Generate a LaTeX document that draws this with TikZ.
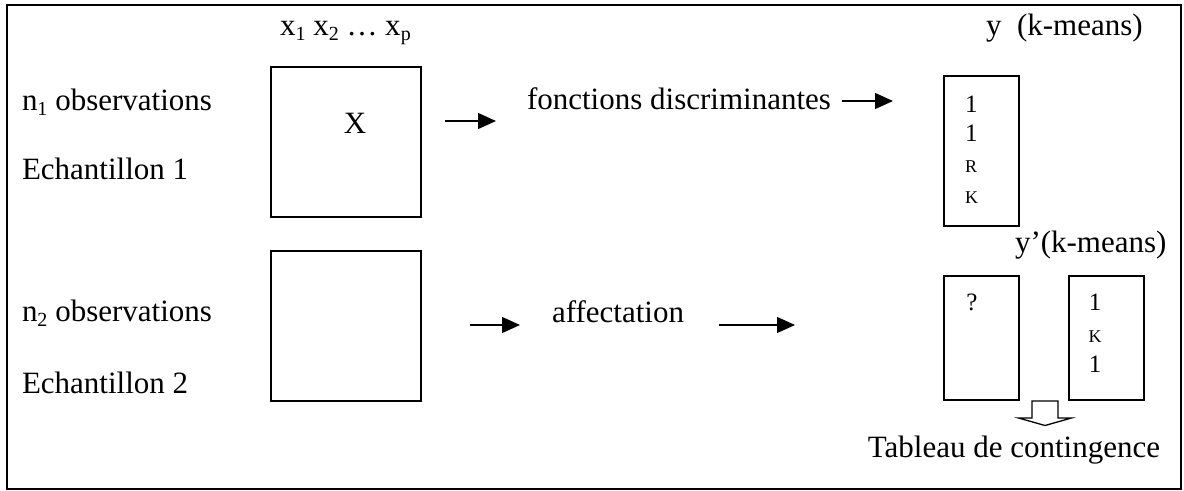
\documentclass[tikz,border=0pt]{standalone}
\usepackage{fontspec}
\setmainfont{Liberation Serif}
\usetikzlibrary{arrows.meta}
\newcommand\mysub[1]{\raisebox{-0.16em}{\fontsize{10}{10}\selectfont #1}}
\begin{document}
\begin{tikzpicture}[x=0.5pt,y=-0.5pt,
  txt/.style={inner sep=0pt, outer sep=0pt, anchor=base west, font=\fontsize{15.5}{18}\selectfont},
  dig/.style={inner sep=0pt, outer sep=0pt, anchor=base, font=\fontsize{12.5}{14}\selectfont},
  let/.style={inner sep=0pt, outer sep=0pt, anchor=base, font=\fontsize{9}{10}\selectfont},
  box/.style={draw, line width=0.65pt, inner sep=0pt, outer sep=0pt},
  arr/.style={line width=0.65pt, -{Triangle[length=9pt,width=8pt]}},
]
\useasboundingbox (0,0) rectangle (1184,491);
% frame
\node[draw, line width=1pt, inner sep=0pt, minimum width=587pt, minimum height=242pt] (frame) at (594,247) {};
% matrices
\node[box, minimum width=75pt, minimum height=75pt] (X1) at (346,142) {};
\node[box, minimum width=75pt, minimum height=75pt] (X2) at (346,326) {};
\node[anchor=base, inner sep=0pt, font=\fontsize{15.5}{18}\selectfont] (Xlab) at (355,134) {X};
% result boxes
\node[box, minimum width=37.5pt, minimum height=75pt] (Y1) at (981.5,151) {};
\node[box, minimum width=37.5pt, minimum height=62pt] (Y2) at (981.5,338) {};
\node[box, minimum width=37.5pt, minimum height=62pt] (Y3) at (1106.5,338) {};
% contents of boxes
\node[dig, anchor=base west] (y1a) at (965,113) {1};
\node[dig, anchor=base west] (y1b) at (965,142) {1};
\node[let, anchor=base west] (y1c) at (965,173) {R};
\node[let, anchor=base west] (y1d) at (965,204) {K};
\node[dig] (q) at (972,311) {?};
\node[dig] (y3a) at (1095,311) {1};
\node[let] (y3b) at (1095,343) {K};
\node[dig] (y3c) at (1095,373) {1};
% labels
\node[txt] (vars) at (280,36) {x\mysub{1} x\mysub{2} … x\mysub{p}};
\node[txt] (ylab) at (986,36) {y\ \ (k-means)};
\node[txt] (yplab) at (1015,253) {y’(k-means)};
\node[txt] (n1) at (22,111) {n\mysub{1} observations};
\node[txt] (e1) at (22,180) {Echantillon 1};
\node[txt] (n2) at (22,322) {n\mysub{2} observations};
\node[txt] (e2) at (22,394) {Echantillon 2};
\node[txt] (fd) at (527,110) {fonctions discriminantes};
\node[txt] (aff) at (552,323) {affectation};
\node[txt, anchor=base east] (tab) at (1160,458) {Tableau de contingence};
% arrows
\coordinate (a1s) at (445,121);
\coordinate (a1e) at (496,121);
\coordinate (a2s) at (842,101);
\coordinate (a2e) at (893,101);
\coordinate (a3s) at (470,325);
\coordinate (a3e) at (520,325);
\coordinate (a4s) at (719,325);
\coordinate (a4e) at (795,325);
\draw[arr] (a1s) -- (a1e);
\draw[arr] (a2s) -- (a2e);
\draw[arr] (a3s) -- (a3e);
\draw[arr] (a4s) -- (a4e);
% hollow arrow to contingency table
\coordinate (hol) at (1044.5,401);
\draw[line width=0.65pt, line join=miter] (hol) ++(-12.5,0) -- ++(0,17) -- ++(-13.5,0) -- ++(26.5,7.5) -- ++(26.5,-7.5) -- ++(-13.5,0) -- ++(0,-17) -- cycle;
\end{tikzpicture}
\end{document}
